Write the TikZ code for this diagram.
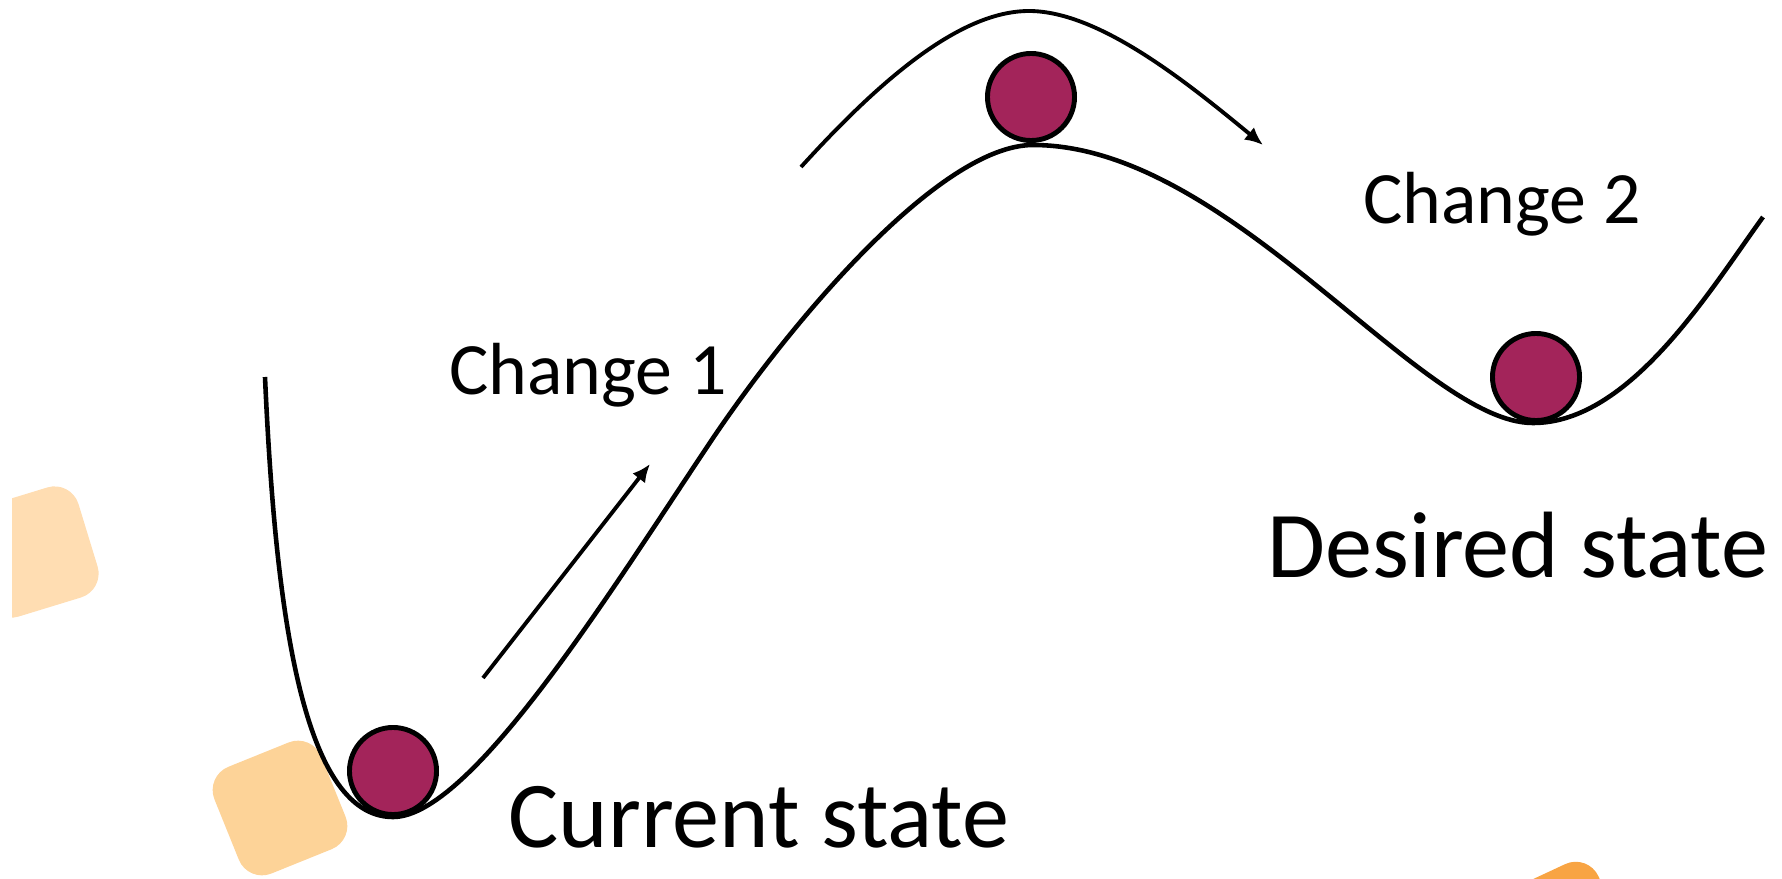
\documentclass[tikz,border=0pt]{standalone}
\usepackage{fontspec}
\setmainfont{Carlito}
\usetikzlibrary{arrows.meta}
\definecolor{BallRed}{HTML}{A3245A}
\definecolor{TilePeach}{HTML}{FFDDB2}
\definecolor{TileSand}{HTML}{FDD398}
\definecolor{TileOrange}{HTML}{F8A443}

\begin{document}
\begin{tikzpicture}[
  x=0.01cm, y=-0.01cm,
  every node/.style={inner sep=0pt},
  tile/.style={rounded corners=2.5mm,minimum size=11.5mm,rotate=#1},
  ball/.style={circle,draw,line width=1.4pt,fill=BallRed,minimum size=8.7mm},
  hill/.style={line width=1.3pt,line join=round},
  move/.style={line width=1.1pt,-{Latex[length=1.8mm,width=1.6mm]}},
  changetxt/.style={font=\fontsize{21}{24}\selectfont,anchor=base},
  statetxt/.style={font=\fontsize{26.8}{30}\selectfont,anchor=base}
]
  \useasboundingbox (0,0) rectangle (1782,879);

  % background tiles
  \begin{scope}
    \clip (12,0) rectangle (1782,879);
    \node[tile=17,fill=TilePeach] (tileA) at (33,552) {};
    \node[tile=22,fill=TileSand] (tileB) at (280,808) {};
    \node[tile=25,fill=TileOrange] (tileC) at (1560,930) {};
  \end{scope}

  % the landscape
  \draw[hill] (265,377) .. controls (275,600) and (300,817) .. (393,817)
    .. controls (470,817) and (607,597) .. (707,447)
    .. controls (790,322) and (940,145) .. (1033,145)
    .. controls (1230,145) and (1420,423) .. (1533,423)
    .. controls (1630,423) and (1710,290) .. (1763,217);

  \node[ball] (current) at (393,771) {};
  \node[ball] (top) at (1031,97) {};
  \node[ball] (desired) at (1536,377) {};

  \coordinate (c1s) at (483,678);
  \coordinate (c1e) at (650,464);
  \coordinate (c2s) at (801,167);
  \coordinate (c2top) at (1029,11);
  \coordinate (c2e) at (1263,145);
  \draw[move] (c1s) -- (c1e);
  \draw[move] (c2s) .. controls (880,80) and (960,11) .. (c2top)
    .. controls (1100,11) and (1190,85) .. (c2e);

  \node[changetxt] (ch1) at (588,394) {Change 1};
  \node[changetxt] (ch2) at (1502,223) {Change 2};
  \node[statetxt] (cur) at (759,847) {Current state};
  \node[statetxt] (des) at (1518,577) {Desired state};
\end{tikzpicture}
\end{document}
